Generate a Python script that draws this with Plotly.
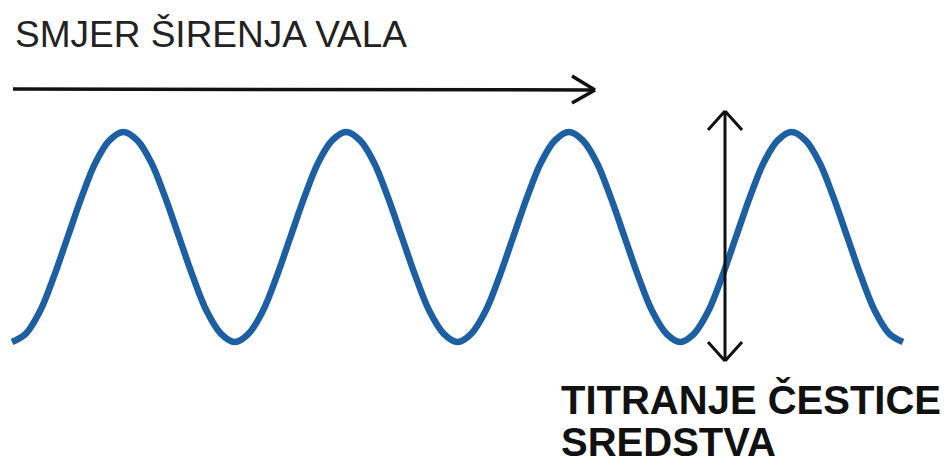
import plotly.graph_objects as go

wave_x = [i / 16 for i in range(65)]  # position in wavelengths, 0 .. 4
one_period = [-1, -0.92, -0.71, -0.38, 0, 0.38, 0.71, 0.92,
              1, 0.92, 0.71, 0.38, 0, -0.38, -0.71, -0.92]
wave_y = one_period + one_period + one_period + one_period + [-1]

title_text = "SMJER ŠIRENJA VALA"
label_line1 = "TITRANJE ČESTICE"
label_line2 = "SREDSTVA"

W, H = 950, 466
WAVE_COLOR = "#1c5fa2"
INK = "#111111"

# axis ranges chosen so wavelength 0 sits at the left of the drawing
x0_px, lam_px = 12, 222.75
yc_px, amp_px = 237, 105
x_range = [(0 - x0_px) / lam_px, (W - x0_px) / lam_px]
y_range = [(yc_px - H) / amp_px, (yc_px - 0) / amp_px]

fig = go.Figure()
fig.add_trace(go.Scatter(
    x=wave_x, y=wave_y, mode="lines",
    line=dict(color=WAVE_COLOR, width=6.5, shape="spline", smoothing=1.0),
    hoverinfo="skip", showlegend=False,
))


def px(x):
    return x / W


def py(y):
    return 1 - y / H


def seg(xa, ya, xb, yb, w=3):
    fig.add_shape(type="line", xref="paper", yref="paper",
                  x0=px(xa), y0=py(ya), x1=px(xb), y1=py(yb),
                  line=dict(color=INK, width=w))


# horizontal arrow (direction of propagation)
seg(13, 89, 595, 90, 3.5)
seg(572, 76, 595, 90, 3.5)
seg(572, 103, 595, 90, 3.5)

# vertical double arrow (particle oscillation)
seg(725, 111, 725, 361)
seg(708, 130, 725, 111)
seg(742, 130, 725, 111)
seg(708, 342, 725, 361)
seg(742, 342, 725, 361)

fig.add_annotation(text=title_text, xref="paper", yref="paper",
                   x=px(13), y=py(35), xanchor="left", yanchor="middle",
                   showarrow=False,
                   font=dict(family="Liberation Sans, Arial", size=37, color="#222222"))
fig.add_annotation(text="<b>" + label_line1 + "</b>", xref="paper", yref="paper",
                   x=px(559), y=py(399), xanchor="left", yanchor="middle",
                   showarrow=False,
                   font=dict(family="Liberation Sans, Arial", size=40, color=INK))
fig.add_annotation(text="<b>" + label_line2 + "</b>", xref="paper", yref="paper",
                   x=px(559), y=py(442), xanchor="left", yanchor="middle",
                   showarrow=False,
                   font=dict(family="Liberation Sans, Arial", size=40, color=INK))

fig.update_xaxes(range=x_range, visible=False, fixedrange=True)
fig.update_yaxes(range=y_range, visible=False, fixedrange=True)
fig.update_layout(width=W, height=H, margin=dict(l=0, r=0, t=0, b=0),
                  paper_bgcolor="white", plot_bgcolor="white")

fig.write_html("out.html", config={"displayModeBar": False},
               post_script="document.body.style.margin='0';")
